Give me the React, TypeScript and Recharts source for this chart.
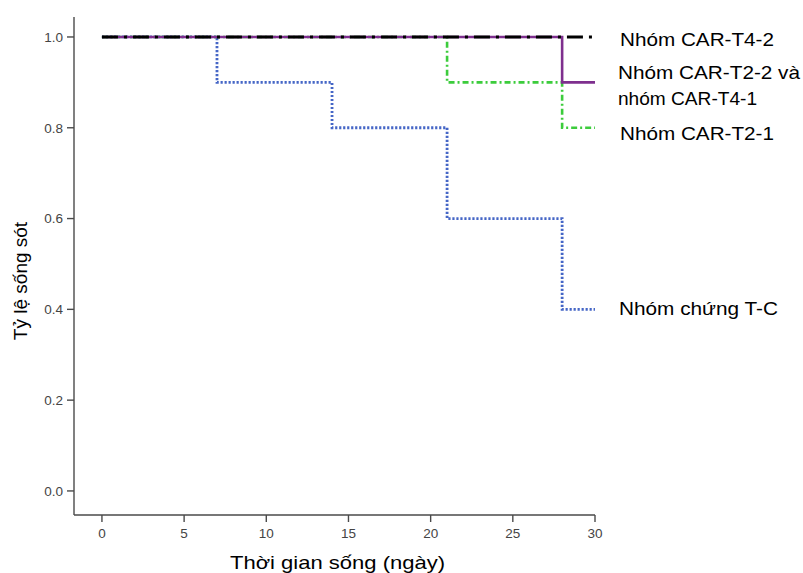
import React from 'react';
import { LineChart, Line, XAxis, YAxis } from 'recharts';

// Survival time points (days)
const days = [0, 7, 14, 21, 28, 30];
// Kaplan–Meier survival proportions per group
const controlTC = [1.0, 0.9, 0.8, 0.6, 0.4, 0.4];
const carT2_1 = [1.0, 1.0, 1.0, 0.9, 0.8, 0.8];
const carT2_2_T4_1 = [1.0, 1.0, 1.0, 1.0, 0.9, 0.9];
const carT4_2 = [1.0, 1.0, 1.0, 1.0, 1.0, 1.0];

const xTicks = [0, 5, 10, 15, 20, 25, 30];
const yTicks = [0, 0.2, 0.4, 0.6, 0.8, 1.0];

const xTitle = 'Thời gian sống (ngày)';
const yTitle = 'Tỷ lệ sống sót';
const groupLabels = [
  'Nhóm CAR-T4-2',
  'Nhóm CAR-T2-2 và',
  'nhóm CAR-T4-1',
  'Nhóm CAR-T2-1',
  'Nhóm chứng T-C',
];

const data = days.map((d, i) => ({
  day: d,
  tc: controlTC[i],
  t21: carT2_1[i],
  t22: carT2_2_T4_1[i],
  t42: carT4_2[i],
}));

const FONT = '"Liberation Sans", Arial, sans-serif';
const AXIS = '#4a4a4a';

// layout for the overlay text (positions only)
const labelLayout = [
  { x: 620, y: 46, len: 154 },
  { x: 618, y: 79, len: 182 },
  { x: 618, y: 105, len: 139 },
  { x: 620, y: 140, len: 154 },
  { x: 619, y: 315, len: 159 },
];

export default function App() {
  return (
    <div style={{ position: 'absolute', left: 0, top: 0, width: 803, height: 573, background: '#fff' }}>
      <LineChart
        width={803}
        height={573}
        data={data}
        margin={{ top: 17, right: 208, bottom: 28, left: 14 }}
      >
        <XAxis
          dataKey="day"
          type="number"
          domain={[-1.7, 30]}
          allowDataOverflow
          ticks={xTicks}
          height={30}
          tickSize={7}
          tickMargin={6}
          axisLine={{ stroke: AXIS, strokeWidth: 1.4 }}
          tickLine={{ stroke: AXIS, strokeWidth: 1.4 }}
          tick={{ fontSize: 13.5, fill: '#444', fontFamily: FONT }}
        />
        <YAxis
          type="number"
          domain={[-0.053, 1.044]}
          allowDataOverflow
          ticks={yTicks}
          width={60}
          tickSize={7}
          tickMargin={4}
          tickFormatter={(v: number) => v.toFixed(1)}
          axisLine={{ stroke: AXIS, strokeWidth: 1.4 }}
          tickLine={{ stroke: AXIS, strokeWidth: 1.4 }}
          tick={{ fontSize: 13.5, fill: '#444', fontFamily: FONT }}
        />
        <Line
          type="stepAfter"
          dataKey="tc"
          stroke="#4566c6"
          strokeWidth={2.8}
          strokeDasharray="2.2 1.8"
          dot={false}
          isAnimationActive={false}
        />
        <Line
          type="stepAfter"
          dataKey="t21"
          stroke="#3ccc3c"
          strokeWidth={2.6}
          strokeDasharray="6 3 2 3"
          dot={false}
          isAnimationActive={false}
        />
        <Line
          type="stepAfter"
          dataKey="t22"
          stroke="#7e2f8e"
          strokeWidth={2.6}
          dot={false}
          isAnimationActive={false}
        />
        <Line
          type="stepAfter"
          dataKey="t42"
          stroke="#000"
          strokeWidth={3}
          strokeDasharray="16 6 3 6"
          dot={false}
          isAnimationActive={false}
        />
      </LineChart>
      <svg
        width={803}
        height={573}
        style={{ position: 'absolute', left: 0, top: 0, pointerEvents: 'none' }}
      >
        {groupLabels.map((t, i) => (
          <text
            key={t}
            x={labelLayout[i].x}
            y={labelLayout[i].y}
            fontSize={18.6}
            fontFamily={FONT}
            fill="#000"
            textLength={labelLayout[i].len}
            lengthAdjust="spacingAndGlyphs"
          >
            {t}
          </text>
        ))}
        <text
          x={230}
          y={569}
          fontSize={18.6}
          fontFamily={FONT}
          fill="#000"
          textLength={215}
          lengthAdjust="spacingAndGlyphs"
        >
          {xTitle}
        </text>
        <text
          transform="translate(27,281) rotate(-90)"
          textAnchor="middle"
          fontSize={19}
          fontFamily={FONT}
          fill="#000"
        >
          {yTitle}
        </text>
      </svg>
    </div>
  );
}
